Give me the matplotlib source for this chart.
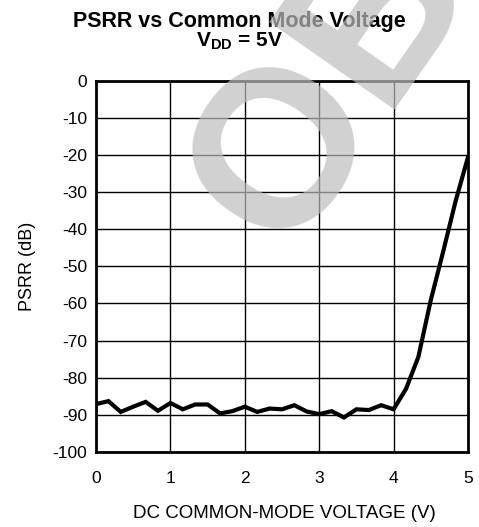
import matplotlib
matplotlib.use("Agg")
import matplotlib.pyplot as plt

plt.rcParams['font.family'] = ['Liberation Sans', 'DejaVu Sans']
plt.rcParams['mathtext.fontset'] = 'custom'
plt.rcParams['mathtext.rm'] = 'Liberation Sans'
plt.rcParams['mathtext.bf'] = 'Liberation Sans:bold'

# Data
voltage = [0.0, 0.167, 0.333, 0.5, 0.667, 0.833, 1.0, 1.167, 1.333, 1.5,
           1.667, 1.833, 2.0, 2.167, 2.333, 2.5, 2.667, 2.833, 3.0, 3.167,
           3.333, 3.5, 3.667, 3.833, 4.0, 4.167, 4.333, 4.5, 4.667, 4.833, 5.0]
psrr = [-87.1, -86.3, -89.2, -87.8, -86.5, -88.9, -86.8, -88.5, -87.2, -87.2,
        -89.6, -89.0, -87.8, -89.2, -88.3, -88.5, -87.4, -89.1, -89.8, -89.0,
        -90.7, -88.5, -88.7, -87.4, -88.5, -83.0, -74.4, -59.1, -46.0, -32.5, -20.6]
x_ticks = [0, 1, 2, 3, 4, 5]
y_ticks = [0, -10, -20, -30, -40, -50, -60, -70, -80, -90, -100]

fig = plt.figure(figsize=(4.79, 5.27), dpi=100)
ax = fig.add_axes([0.2004, 0.1423, 0.7766, 0.7047])

ax.plot(voltage, psrr, color='black', lw=3.0, solid_joinstyle='miter', zorder=3)
ax.set_xlim(0, 5)
ax.set_ylim(-100, 0)
ax.set_xticks(x_ticks)
ax.set_yticks(y_ticks)
ax.set_yticklabels([str(v) for v in y_ticks])
ax.grid(True, color='black', lw=1.0)
ax.tick_params(length=0, labelsize=12.5)
ax.tick_params(axis='x', pad=14)
ax.tick_params(axis='y', pad=6.5)
for s in ax.spines.values():
    s.set_linewidth(2.0)

fig.text(284 / 479, 1 - 513 / 527, 'DC COMMON-MODE VOLTAGE (V)', fontsize=13.5,
         ha='center', va='center')
fig.text(27.5 / 479, 1 - 266 / 527, 'PSRR (dB)', fontsize=13, rotation=90,
         ha='center', va='center')

fig.text(0.5, 0.949, 'PSRR vs Common Mode Voltage', ha='center', va='baseline',
         fontsize=15.5, fontweight='bold')
fig.text(0.5, 0.9105, r'$\mathbf{V_{DD}}$ = 5V', ha='center', va='baseline',
         fontsize=15, fontweight='bold')

# Watermark
fig.text(0.494, 0.579, 'OBSOLETE', rotation=55, fontsize=160, fontweight='bold',
         color='#bdbdbd', alpha=0.7, ha='left', va='center',
         rotation_mode='anchor', zorder=10)

fig.savefig('out.png', dpi=100)
